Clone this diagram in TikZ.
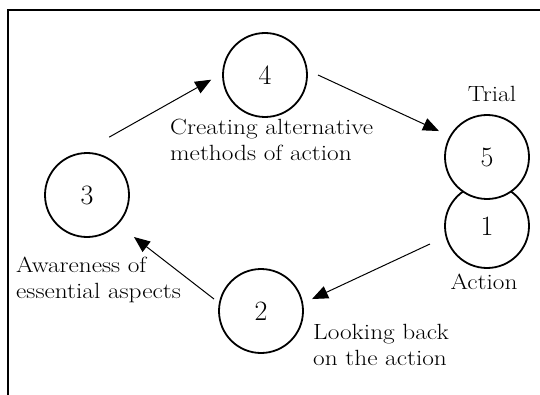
\documentclass[tikz,border=0pt]{standalone}
\usetikzlibrary{arrows.meta,calc}
\newcommand\wtxt[1]{\scalebox{1.15}[1]{#1}}
\begin{document}
\begin{tikzpicture}[x=1pt,y=1pt,
  stage/.style={circle,draw,line width=1.8pt,minimum size=84pt,inner sep=0pt,fill=white,font=\fontsize{28}{30}\selectfont},
  lbl/.style={font=\fontsize{22}{26}\selectfont,inner sep=0pt},
  lblblock/.style={lbl,align=left,anchor=west},
  arr/.style={line width=1pt,-{Triangle[length=16pt,width=13pt]}},
  frame/.style={line width=2.3pt,line join=miter}]
\useasboundingbox (0,0) rectangle (540,394);
\coordinate (fr1) at (545,384);
\coordinate (fr2) at (8,384);
\coordinate (fr3) at (8,-5);
\draw[frame] (fr1) -- (fr2) -- (fr3);
\node[stage] (c1) at (487,168) {1};
\node[stage] (c5) at (487,237) {5};
\node[stage] (c4) at (265,319) {4};
\node[stage] (c3) at (87,199) {3};
\node[stage] (c2) at (261,83) {2};
\node[lbl] (ltrial) at (492,300) {\wtxt{Trial}};
\node[lbl] (laction) at (484,112) {\wtxt{Action}};
\node[lblblock] (lcreate) at (170,254) {\wtxt{Creating alternative}\\\wtxt{methods of action}};
\node[lblblock] (laware) at (16,114.5) {\wtxt{Awareness of}\\\wtxt{essential aspects}};
\node[lblblock] (llook) at (313,49) {\wtxt{Looking back}\\\wtxt{on the action}};
\draw[arr] ($(c3)+(69:62)$) -- ($(c4)+(185:54)$);
\draw[arr] ($(c4)+(0:53)$) -- ($(c5)+(151.6:54.6)$);
\draw[arr] ($(c1)+(197.5:59.8)$) -- ($(c2)+(13.2:52.4)$);
\draw[arr] ($(c2)+(165.7:48.5)$) -- ($(c3)+(-41.8:63)$);
\end{tikzpicture}
\end{document}
